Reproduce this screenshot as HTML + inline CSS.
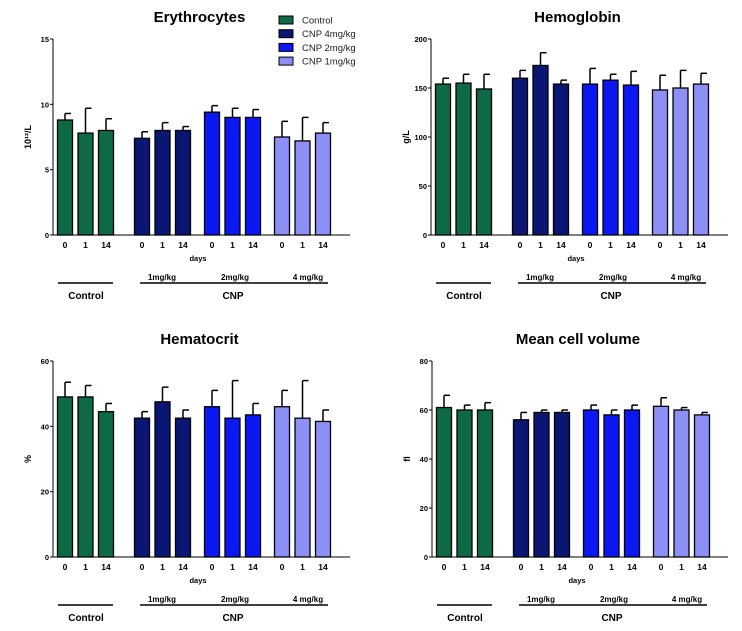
<!DOCTYPE html>
<html><head><meta charset="utf-8"><style>
body{margin:0;background:#fff;}
svg{display:block;font-family:"Liberation Sans",Arial,sans-serif;}
</style></head><body>
<svg id="c" width="742" height="631" viewBox="0 0 742 631"></svg>
<script>
const categories=["0","1","14","0","1","14","0","1","14","0","1","14"];
const groups=["Control","CNP 4mg/kg","CNP 2mg/kg","CNP 1mg/kg"];
const eryMean=[8.8,7.8,8.0,7.4,8.0,8.0,9.4,9.0,9.0,7.5,7.2,7.8];
const eryUpper=[9.3,9.7,8.9,7.9,8.6,8.3,9.9,9.7,9.6,8.7,9.0,8.6];
const eryTicks=[0,5,10,15];
const hbMean=[154,155,149,160,173,154,154,158,153,148,150,154];
const hbUpper=[160,164,164,168,186,158,170,164,167,163,168,165];
const hbTicks=[0,50,100,150,200];
const hctMean=[49,49,44.5,42.5,47.5,42.5,46,42.5,43.5,46,42.5,41.5];
const hctUpper=[53.5,52.5,47,44.5,52,45,51,54,47,51,54,45];
const hctTicks=[0,20,40,60];
const mcvMean=[61,60,60,56,59,59,60,58,60,61.5,60,58];
const mcvUpper=[66,62,63,59,60,60,62,60,62,65,61,59];
const mcvTicks=[0,20,40,60,80];
const colors=["#0d6a44","#0b1573","#0b18f2","#8c8ff5"];
const NS="http://www.w3.org/2000/svg";
const svg=document.getElementById('c');
function el(t,a,p){const e=document.createElementNS(NS,t);for(const k in a)e.setAttribute(k,a[k]);(p||svg).appendChild(e);return e;}
function txt(x,y,s,a,p){const e=el('text',Object.assign({x:x,y:y},a),p);e.textContent=s;return e;}
function panel(name,title,ylab,ax,top,bot,right,means,uppers,ticks){
  const g=el('g',{});
  
  
  const ymax=ticks[ticks.length-1];
  const y=v=>bot-(v/ymax)*(bot-top);
  const offs=i=>{const gi=Math.floor(i/3);return ax+12+gi*70+(gi>0?7:0)+(i%3)*20.5;};
  const t=txt((ax+right)/2-2,top-17,title,{'font-size':15,'font-weight':'bold','text-anchor':'middle'},g);
  
  const yl=txt(0,0,ylab,{'font-size':9,'font-weight':'bold','text-anchor':'middle',transform:`translate(${ax-22},${(top+bot)/2}) rotate(-90)`},g);
  
  for(let i=0;i<means.length;i++){
    const cx=offs(i),gi=Math.floor(i/3);
    const ey=y(uppers[i]),my=y(means[i]);
    el('line',{x1:cx,x2:cx,y1:ey,y2:my,stroke:'#000','stroke-width':1.5},g);
    el('line',{x1:cx,x2:cx+6,y1:ey,y2:ey,stroke:'#000','stroke-width':1.5},g);
    const b=el('rect',{x:cx-7.5,y:my,width:15,height:bot-my,fill:colors[gi],stroke:'#000','stroke-width':1.3},g);
    
    
    txt(cx,bot+13,categories[i],{'font-size':8.5,'font-weight':'bold','text-anchor':'middle'},g);
  }
  el('line',{x1:ax,x2:ax,y1:top,y2:bot,stroke:'#000','stroke-width':1},g);
  el('line',{x1:ax,x2:right,y1:bot,y2:bot,stroke:'#000','stroke-width':1},g);
  ticks.forEach(v=>{el('line',{x1:ax-3,x2:ax,y1:y(v),y2:y(v),stroke:'#000'},g);
    txt(ax-4,y(v)+3,String(v),{'font-size':7.5,'font-weight':'bold','text-anchor':'end'},g);});
  txt(ax+145,bot+26,'days',{'font-size':7.5,'font-weight':'bold','text-anchor':'middle'},g);
  txt(ax+109,bot+45,'1mg/kg',{'font-size':8,'font-weight':'bold','text-anchor':'middle'},g);
  txt(ax+182,bot+45,'2mg/kg',{'font-size':8,'font-weight':'bold','text-anchor':'middle'},g);
  txt(ax+255,bot+45,'4 mg/kg',{'font-size':8,'font-weight':'bold','text-anchor':'middle'},g);
  el('line',{x1:ax+5,x2:ax+60,y1:bot+48,y2:bot+48,stroke:'#000','stroke-width':1.5},g);
  el('line',{x1:ax+87,x2:ax+275,y1:bot+48,y2:bot+48,stroke:'#000','stroke-width':1.5},g);
  txt(ax+33,bot+64,'Control',{'font-size':10,'font-weight':'bold','text-anchor':'middle'},g);
  txt(ax+180,bot+64,'CNP',{'font-size':10,'font-weight':'bold','text-anchor':'middle'},g);
}
panel('erythrocytes','Erythrocytes','10¹²/L',53,39,235,350,eryMean,eryUpper,eryTicks);
panel('hemoglobin','Hemoglobin','g/L',431,39,235,728,hbMean,hbUpper,hbTicks);
panel('hematocrit','Hematocrit','%',53,361,557,350,hctMean,hctUpper,hctTicks);
panel('mean-cell-volume','Mean cell volume','fl',432,361,557,728,mcvMean,mcvUpper,mcvTicks);
const lg=el('g',{});


groups.forEach((n,i)=>{
  const yy=20+i*13.7;
  const r=el('rect',{x:279,y:yy-4,width:14,height:8,fill:colors[i],stroke:'#000','stroke-width':1},lg);
  
  
  const t=txt(302,yy+3.5,n,{'font-size':9.5,fill:'#222'},lg);
  
  
});
</script>
</body></html>
